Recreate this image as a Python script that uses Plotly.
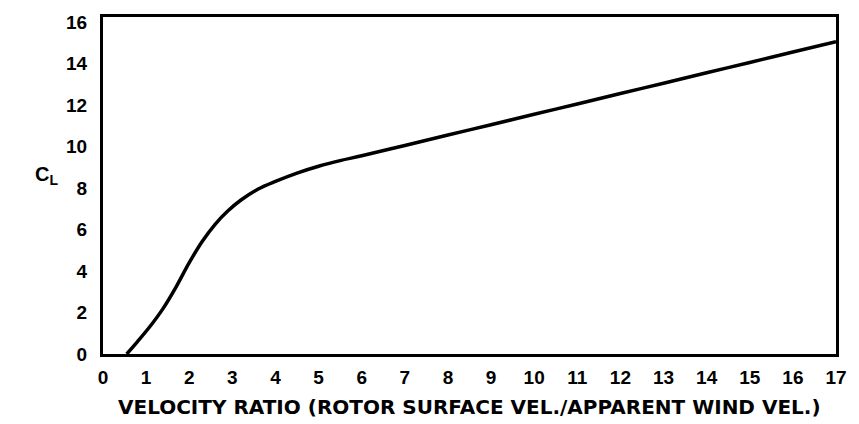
import plotly.graph_objects as go

# Lift coefficient vs. velocity ratio for a rotor sail
velocity_ratio = [0.55, 0.8, 1.08, 1.38, 1.7, 2.0, 2.3, 2.6, 2.9, 3.2, 3.6,
                  4.0, 4.5, 5.0, 5.5, 6, 7, 8, 9, 10, 11, 12, 13, 14,
                  15, 16, 17]
lift_coeff = [0.0, 0.6, 1.3, 2.15, 3.25, 4.4, 5.42, 6.25, 6.9, 7.42, 7.95,
              8.32, 8.72, 9.05, 9.32, 9.55, 10.05, 10.55, 11.05, 11.55,
              12.05, 12.55, 13.05, 13.55, 14.05, 14.55, 15.05]

x_ticks = list(range(0, 18))
y_ticks = list(range(0, 17, 2))

fig = go.Figure()
fig.add_trace(go.Scatter(
    x=velocity_ratio, y=lift_coeff, mode="lines",
    line=dict(color="black", width=3.5, shape="spline", smoothing=1.0),
    hoverinfo="skip", showlegend=False,
))

tick_font = dict(family="Liberation Sans", size=19, color="black", weight="bold")

fig.update_xaxes(
    range=[0, 17], tickvals=x_ticks, ticktext=[str(v) for v in x_ticks],
    showgrid=False, zeroline=False, showline=True, mirror=True,
    linecolor="black", linewidth=3, ticks="", tickfont=tick_font,
    ticklabelstandoff=4,
)
fig.update_yaxes(
    range=[0, 16.24], tickvals=y_ticks, ticktext=[str(v) for v in y_ticks],
    showgrid=False, zeroline=False, showline=True, mirror=True,
    linecolor="black", linewidth=3, ticks="", tickfont=tick_font,
    ticklabelstandoff=9,
)

# x-axis title, placed below the tick labels in paper coordinates
fig.add_annotation(
    text="VELOCITY RATIO (ROTOR SURFACE VEL./APPARENT WIND VEL.)",
    x=(474 - 103) / 742, y=(354 - 408) / 342,
    xref="paper", yref="paper", showarrow=False,
    xanchor="center", yanchor="middle",
    font=dict(family="DejaVu Sans", size=20, color="black", weight="bold"),
)

# C_L label beside the y axis
fig.add_annotation(
    text="C<sub>L</sub>", x=(46 - 103) / 742, y=(354 - 173) / 342,
    xref="paper", yref="paper", showarrow=False,
    xanchor="center", yanchor="middle",
    font=dict(family="Liberation Sans", size=20, color="black", weight="bold"),
)

fig.update_layout(
    width=859, height=424,
    margin=dict(l=103, r=14, t=12, b=70),
    paper_bgcolor="white", plot_bgcolor="white",
)

fig.write_html("out.html")
